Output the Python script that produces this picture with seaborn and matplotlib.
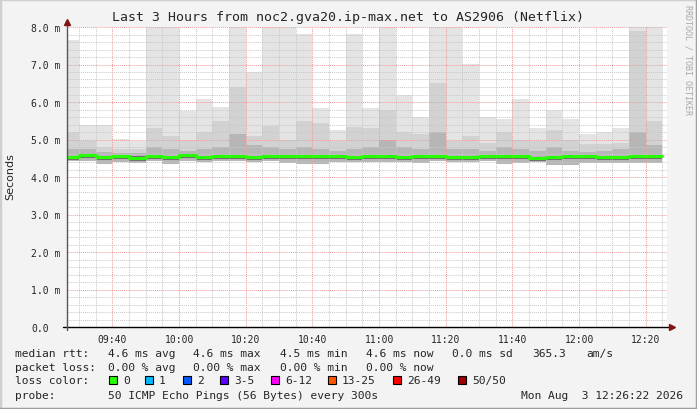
import numpy as np
import pandas as pd
import matplotlib
matplotlib.use("Agg")
import matplotlib.pyplot as plt
import matplotlib.dates as mdates
from matplotlib.ticker import MultipleLocator, FixedLocator
from matplotlib.patches import Rectangle
from matplotlib.lines import Line2D
import seaborn as sns

# 5 minute bins (start times); the first one is cut by the left edge
bin_start = pd.date_range("2026-08-03 09:25", "2026-08-03 12:20", freq="5min")
t_from = pd.Timestamp("2026-08-03 09:26:22")
t_to = pd.Timestamp("2026-08-03 12:26:22")

# rtt in ms
rtt_max = [7.66, 5.39, 5.39, 5.01, 4.96, 8.2, 8.2, 5.77, 6.08, 5.88, 8.2, 6.81,
           8.2, 8.2, 7.81, 5.83, 5.25, 7.81, 5.83, 8.2, 6.19, 5.59, 8.2, 8.2,
           7.01, 5.59, 5.55, 6.08, 5.30, 5.80, 5.55, 5.15, 5.19, 5.32, 8.2, 8.2]
rtt_hi = [5.2, 4.95, 4.8, 4.75, 4.75, 5.3, 5.1, 5.0, 5.2, 5.5, 6.4, 5.1,
          5.37, 5.0, 5.5, 5.45, 4.97, 5.33, 5.3, 5.8, 5.2, 5.15, 6.5, 4.97,
          5.1, 4.92, 5.2, 5.0, 4.97, 5.25, 5.0, 4.87, 4.87, 4.92, 7.9, 5.5]
rtt_mid = [4.75, 4.75, 4.68, 4.65, 4.65, 4.8, 4.75, 4.7, 4.75, 4.8, 5.15, 4.85,
           4.8, 4.75, 4.8, 4.75, 4.7, 4.75, 4.8, 5.0, 4.8, 4.75, 5.2, 4.75,
           4.75, 4.7, 4.8, 4.75, 4.7, 4.8, 4.7, 4.68, 4.7, 4.75, 5.2, 4.85]
rtt_median = [4.53, 4.58, 4.53, 4.55, 4.52, 4.56, 4.53, 4.58, 4.53, 4.57, 4.57, 4.53,
              4.57, 4.57, 4.57, 4.57, 4.55, 4.54, 4.57, 4.57, 4.54, 4.57, 4.55, 4.54,
              4.54, 4.57, 4.57, 4.57, 4.51, 4.54, 4.56, 4.57, 4.54, 4.54, 4.57, 4.57]
rtt_min = [4.43, 4.43, 4.35, 4.41, 4.37, 4.43, 4.35, 4.43, 4.39, 4.43, 4.43, 4.41,
           4.43, 4.37, 4.35, 4.35, 4.39, 4.39, 4.41, 4.41, 4.41, 4.37, 4.43, 4.41,
           4.41, 4.43, 4.35, 4.37, 4.41, 4.33, 4.33, 4.37, 4.37, 4.37, 4.37, 4.37]

y_ticks = [0, 1, 2, 3, 4, 5, 6, 7, 8]
y_tick_labels = ["0.0", "1.0 m", "2.0 m", "3.0 m", "4.0 m", "5.0 m", "6.0 m", "7.0 m", "8.0 m"]

title = "Last 3 Hours from noc2.gva20.ip-max.net to AS2906 (Netflix)"
rtt_fields = ["median rtt:", "4.6 ms avg", "4.6 ms max", "4.5 ms min", "4.6 ms now",
              "0.0 ms sd", "365.3", "am/s"]
loss_fields = ["packet loss:", "0.00 % avg", "0.00 % max", "0.00 % min", "0.00 % now"]
loss_labels = ["0", "1", "2", "3-5", "6-12", "13-25", "26-49", "50/50"]
loss_colors = ["#26ff00", "#00b8ff", "#0059ff", "#5e00ff", "#ff00ff", "#ff5500", "#ff0000", "#a00000"]
probe_text = "50 ICMP Echo Pings (56 Bytes) every 300s"
stamp_text = "Mon Aug  3 12:26:22 2026"

sns.set_style("white")
plt.rcParams["font.family"] = ["DejaVu Sans Mono", "DejaVu Sans"]

W, H = 697, 410
fig = plt.figure(figsize=(W / 100, H / 100), dpi=100, facecolor="#f3f3f3")


def fx(x):
    return x / W


def fy(y):
    return 1 - y / H


ax = fig.add_axes([fx(67), fy(328), 600 / W, 300 / H])
ax.set_facecolor("white")

x0 = mdates.date2num(bin_start)
wid = 5 / 1440.0
mx = np.array(rtt_max)
hi = np.array(rtt_hi)
mid = np.array(rtt_mid)
med = np.array(rtt_median)
mn = np.array(rtt_min)

# smoke
ax.bar(x0, mx - mn, bottom=mn, width=wid, align="edge", color="#e4e4e4", linewidth=0, zorder=1)
ax.bar(x0, hi - mn, bottom=mn, width=wid, align="edge", color="#d2d2d2", linewidth=0, zorder=1.1)
ax.bar(x0, mid - mn, bottom=mn, width=wid, align="edge", color="#b6b6b6", linewidth=0, zorder=1.2)
ax.bar(x0, 0.11, bottom=med - 0.08, width=wid, align="edge", color="#6e6e6e", linewidth=0, zorder=1.3)

# median line (steps)
df = pd.DataFrame({"t": list(x0) + [x0[-1] + wid], "median": list(med) + [med[-1]]})
sns.lineplot(data=df, x="t", y="median", drawstyle="steps-post", color="#26ff00",
             linewidth=2.2, ax=ax, zorder=4)

ax.set_xlim(mdates.date2num(t_from), mdates.date2num(t_to))
ax.set_ylim(0, 8)
ax.set_xlabel("")
ax.set_ylabel("")

ax.xaxis.set_major_locator(mdates.MinuteLocator(byminute=[0, 20, 40]))
ax.xaxis.set_minor_locator(mdates.MinuteLocator(byminute=range(0, 60, 5)))
ax.xaxis.set_major_formatter(mdates.DateFormatter("%H:%M"))
ax.yaxis.set_major_locator(FixedLocator(y_ticks))
ax.set_yticklabels(y_tick_labels)
ax.yaxis.set_minor_locator(MultipleLocator(0.2))

ax.set_axisbelow(False)
ax.grid(which="minor", color="#c8c8c8", linestyle=(0, (1, 1)), linewidth=0.7)
ax.grid(which="major", color="#f09a9a", linestyle=(0, (1, 1)), linewidth=0.7)

ax.tick_params(axis="both", which="both", direction="out", color="#555555",
               labelsize=7, length=2, width=0.6)
ax.tick_params(axis="y", pad=24)
ax.tick_params(axis="x", pad=3)
for lab in ax.get_yticklabels():
    lab.set_horizontalalignment("left")

for s in ["top", "right", "left", "bottom"]:
    ax.spines[s].set_visible(False)

# axes with arrows
ax.plot([-0.007, 1.005], [0, 0], color="black", lw=1.0, transform=ax.transAxes, clip_on=False, zorder=5)
ax.plot([0, 0], [-0.01, 1.01], color="#555555", lw=1.0, transform=ax.transAxes, clip_on=False, zorder=5)
ax.plot([1.008], [0], marker=">", color="#7f1414", ms=4, transform=ax.transAxes, clip_on=False, zorder=6)
ax.plot([0], [1.018], marker="^", color="#7f1414", ms=4, transform=ax.transAxes, clip_on=False, zorder=6)

# texts
mono = "DejaVu Sans Mono"
fig.text(fx(348), fy(18), title, ha="center", va="center", fontsize=9.5, family=mono)
fig.text(fx(10), fy(177), "Seconds", rotation=90, ha="center", va="center",
         fontsize=8, family="DejaVu Sans")
fig.text(fx(688), fy(5), "RRDTOOL / TOBI OETIKER", rotation=270, ha="center", va="top",
         fontsize=6, family=mono, color="#a8a8a8")

col_x = [15, 108, 193, 280, 366, 452, 532, 586]
for x, s in zip(col_x, rtt_fields):
    fig.text(fx(x), fy(354), s, ha="left", va="center", fontsize=8.1, family=mono)
for x, s in zip(col_x, loss_fields):
    fig.text(fx(x), fy(368), s, ha="left", va="center", fontsize=8.1, family=mono)

fig.text(fx(15), fy(381), "loss color:", ha="left", va="center", fontsize=8.1, family=mono)
sq_x = [109, 145, 183, 220, 271, 328, 393, 458]
for x, lab, c in zip(sq_x, loss_labels, loss_colors):
    fig.add_artist(Rectangle((fx(x), fy(385)), 8 / W, 8 / H, transform=fig.transFigure,
                             facecolor=c, edgecolor="black", linewidth=0.8))
    fig.text(fx(x + 14), fy(381), lab, ha="left", va="center", fontsize=8.1, family=mono)

fig.text(fx(15), fy(396), "probe:", ha="left", va="center", fontsize=8.1, family=mono)
fig.text(fx(108), fy(396), probe_text, ha="left", va="center", fontsize=8.1, family=mono)
fig.text(fx(683), fy(396), stamp_text, ha="right", va="center", fontsize=8.1, family=mono)

# outer frame
fig.add_artist(Line2D([0, 0, 1], [0, 1, 1], transform=fig.transFigure, color="#cfcfcf", lw=2.5))
fig.add_artist(Line2D([0, 1, 1], [0, 0, 1], transform=fig.transFigure, color="#9e9e9e", lw=2.5))

fig.savefig("out.png", dpi=100, facecolor=fig.get_facecolor())
